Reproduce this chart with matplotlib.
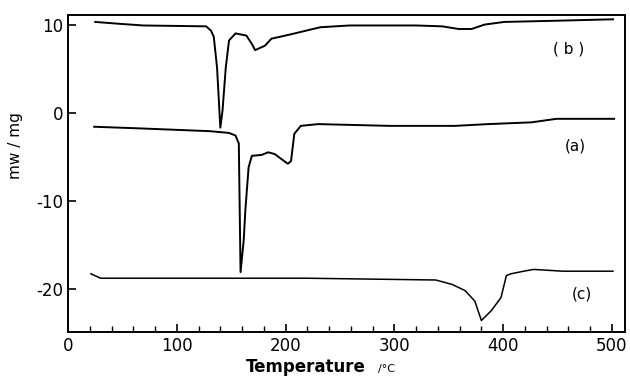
import matplotlib.pyplot as plt
import numpy as np

# curve (b)
tb = [25, 46, 69, 127, 131.5, 134, 137, 140, 142, 145, 148, 154, 164, 169, 172, 181, 187,
      205, 232, 259, 320, 344, 359, 371, 383, 401, 453, 501]
yb = [10.3, 10.1, 9.9, 9.8, 9.3, 8.6, 5.1, -1.7, 0.2, 5.1, 8.2, 9.0, 8.75, 7.8, 7.1, 7.6, 8.4,
      8.9, 9.7, 9.9, 9.9, 9.8, 9.5, 9.5, 10.0, 10.3, 10.45, 10.6]

# curve (a)
ta = [24, 69, 130, 148, 154, 157, 158.6, 161.5, 163, 166, 169, 178, 184, 190, 202, 205, 208,
      214, 230, 296, 356, 386, 426, 449, 502]
ya = [-1.6, -1.8, -2.1, -2.3, -2.6, -3.5, -18.1, -14.5, -11.1, -6.2, -4.9, -4.8, -4.5, -4.7,
      -5.8, -5.5, -2.4, -1.5, -1.3, -1.5, -1.5, -1.3, -1.1, -0.7, -0.7]

# curve (c)
tc = [21, 30, 220, 338, 353, 365, 374, 380, 389, 398, 403, 407, 419, 428, 455, 501]
yc = [-18.3, -18.8, -18.8, -19.0, -19.5, -20.2, -21.4, -23.6, -22.5, -21.0, -18.5, -18.3,
      -18.0, -17.8, -18.0, -18.0]

labels = ["( b )", "(a)", "(c)"]
label_pos = [(460, 7.2), (466, -3.8), (472, -20.6)]

fig = plt.figure(figsize=(6.3, 3.82), dpi=100)
ax = fig.add_axes([0.108, 0.131, 0.884, 0.830])

for t, y, w in [(tb, yb, 1.4), (ta, ya, 1.4), (tc, yc, 1.1)]:
    ax.plot(t, y, color="black", lw=w)

for lab, (x, y) in zip(labels, label_pos):
    ax.text(x, y, lab, fontsize=11, ha="center", va="center")

ax.set_xlim(0, 512)
ax.set_ylim(-24.9, 11.1)
ax.set_xticks([0, 100, 200, 300, 400, 500])
ax.set_xticks(np.arange(20, 512, 20), minor=True)
ax.set_yticks([10, 0, -10, -20])
ax.set_yticklabels(["10", "0", "-10", "-20"])
ax.tick_params(direction="in", labelsize=12, length=6, width=1.2)
ax.tick_params(which="minor", direction="in", length=4, width=1)
for s in ax.spines.values():
    s.set_linewidth(1.4)

fig.text(0.025, 0.62, "mw / mg", rotation=90, ha="center", va="center", fontsize=11)
fig.text(0.485, 0.04, "Temperature", ha="center", va="center", fontsize=12,
         fontweight="bold")
fig.text(0.613, 0.035, "/°C", ha="center", va="center", fontsize=8)

fig.savefig("out.png")
